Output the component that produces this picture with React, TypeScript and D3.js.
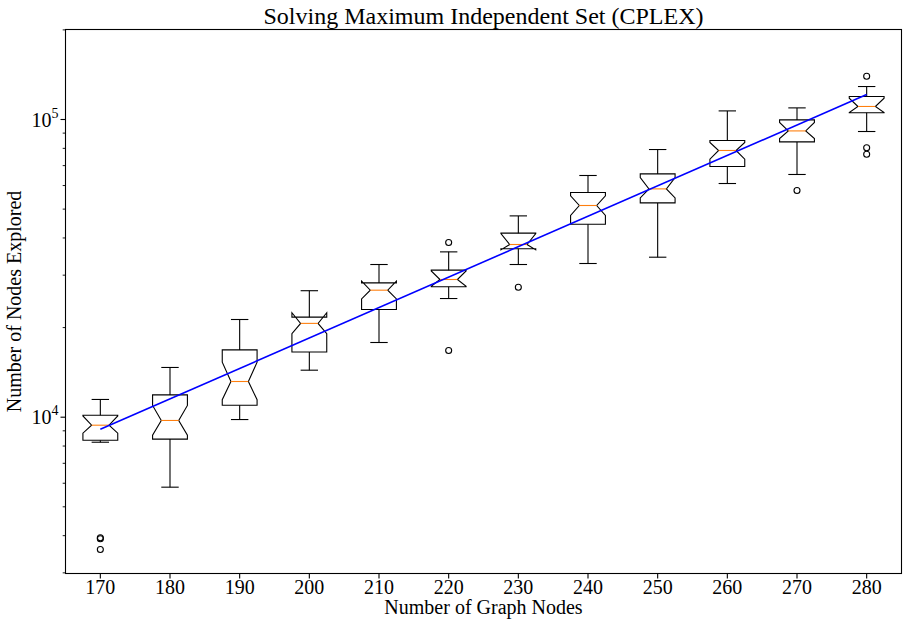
import React from "react";
import * as d3 from "d3";

// ---- data ----
const categories = [170, 180, 190, 200, 210, 220, 230, 240, 250, 260, 270, 280];
const whiskerHigh = [11470, 14690, 21290, 26600, 32575, 35920, 47450, 64850, 79280, 106880, 109400, 129060];
const q3Values = [10155, 11880, 16830, 21680, 28260, 31180, 41510, 56850, 65660, 85000, 99700, 119500];
const notchHigh = [10100, 10950, 15300, 22440, 28630, 31000, 41410, 55380, 63860, 83700, 97700, 117900];
const medians = [9400, 9750, 13180, 20660, 26710, 29010, 38030, 51420, 58470, 78690, 91550, 110600];
const notchLow = [8840, 8700, 11450, 19080, 24970, 27540, 36480, 47600, 54530, 73570, 86330, 105560];
const q1Values = [8370, 8440, 10970, 16560, 23000, 27440, 36810, 44490, 52470, 69500, 84100, 105400];
const whiskerLow = [8240, 5820, 9820, 14385, 17820, 25040, 32575, 32830, 34470, 60950, 65360, 91130];
const outliers: number[][] = [
  [3938, 3907, 3594],
  [],
  [],
  [],
  [],
  [38620, 16750],
  [27330],
  [],
  [],
  [],
  [57750],
  [139800, 80410, 76450],
];
const fitNodes = [170, 280];
const fitValues = [9110, 121300];

const yMajorTicks = [1e4, 1e5];
const yMajorExponents = ["4", "5"];

const title = "Solving Maximum Independent Set (CPLEX)";
const xLabel = "Number of Graph Nodes";
const yLabel = "Number of Nodes Explored";

// ---- layout ----
const W = 908;
const H = 626;
const left = 65.5;
const right = 901.5;
const top = 29.5;
const bottom = 573.5;
const FONT = "'Liberation Serif', 'DejaVu Serif', serif";

export default function App() {
  const x = d3.scaleLinear().domain([0.5, categories.length + 0.5]).range([left, right]);
  const y = d3.scaleLog().domain([2985, 200600]).range([bottom, top]);

  const boxW = 0.5;
  const minorTicks: number[] = [];
  for (let e = 3; e <= 5; e++) {
    for (let m = 2; m <= 9; m++) {
      const v = m * Math.pow(10, e);
      if (v >= y.domain()[0] && v <= y.domain()[1]) minorTicks.push(v);
    }
  }

  const pos = (i: number) => i + 1;
  const fitLine = d3
    .line<number>()
    .x((_, k) => x(pos(categories.indexOf(fitNodes[k]))))
    .y((v) => y(v));

  return (
    <svg width={W} height={H} style={{ position: "absolute", left: 0, top: 0, background: "#fff" }}>
      <rect x={0} y={0} width={W} height={H} fill="#fff" />
      {/* boxes */}
      {categories.map((c, i) => {
        const p = pos(i);
        const bl = x(p - boxW / 2);
        const br = x(p + boxW / 2);
        const cl = x(p - boxW / 4);
        const cr = x(p + boxW / 4);
        const capL = x(p - boxW / 4);
        const capR = x(p + boxW / 4);
        const cx = x(p);
        const pts: [number, number][] = [
          [bl, y(q1Values[i])],
          [bl, y(notchLow[i])],
          [cl, y(medians[i])],
          [bl, y(notchHigh[i])],
          [bl, y(q3Values[i])],
          [br, y(q3Values[i])],
          [br, y(notchHigh[i])],
          [cr, y(medians[i])],
          [br, y(notchLow[i])],
          [br, y(q1Values[i])],
        ];
        return (
          <g key={c}>
            <line x1={cx} x2={cx} y1={y(q1Values[i])} y2={y(whiskerLow[i])} stroke="#000" strokeWidth={1.1} />
            <line x1={cx} x2={cx} y1={y(q3Values[i])} y2={y(whiskerHigh[i])} stroke="#000" strokeWidth={1.1} />
            <line x1={capL} x2={capR} y1={y(whiskerLow[i])} y2={y(whiskerLow[i])} stroke="#000" strokeWidth={1.1} />
            <line x1={capL} x2={capR} y1={y(whiskerHigh[i])} y2={y(whiskerHigh[i])} stroke="#000" strokeWidth={1.1} />
            <polygon points={pts.map((d) => d.join(",")).join(" ")} fill="none" stroke="#000" strokeWidth={1.1} strokeLinejoin="miter" />
            <line x1={cl} x2={cr} y1={y(medians[i])} y2={y(medians[i])} stroke="#ff7f0e" strokeWidth={1.1} />
            {outliers[i].map((v, k) => (
              <circle key={k} cx={cx} cy={y(v)} r={3} fill="none" stroke="#000" strokeWidth={1.1} />
            ))}
          </g>
        );
      })}
      {/* fit line */}
      <path d={fitLine(fitValues) || ""} fill="none" stroke="#0000ff" strokeWidth={1.6} />
      {/* frame */}
      <rect x={left} y={top} width={right - left} height={bottom - top} fill="none" stroke="#000" strokeWidth={1.1} />
      {/* x ticks */}
      {categories.map((c, i) => (
        <g key={"xt" + c}>
          <line x1={x(pos(i))} x2={x(pos(i))} y1={bottom} y2={bottom + 5} stroke="#000" strokeWidth={1.1} />
          <text x={x(pos(i))} y={bottom + 20} textAnchor="middle" fontFamily={FONT} fontSize={20} fill="#000">
            {c}
          </text>
        </g>
      ))}
      {/* y ticks */}
      {minorTicks.map((v) => (
        <line key={"ym" + v} x1={left - 2.8} x2={left} y1={y(v)} y2={y(v)} stroke="#000" strokeWidth={0.9} />
      ))}
      {yMajorTicks.map((v, k) => (
        <g key={"yM" + v}>
          <line x1={left - 5} x2={left} y1={y(v)} y2={y(v)} stroke="#000" strokeWidth={1.1} />
          <text x={left - 7} y={y(v) + 7} textAnchor="end" fontFamily={FONT} fontSize={20} fill="#000">
            10
            <tspan dy={-9} fontSize={14}>
              {yMajorExponents[k]}
            </tspan>
          </text>
        </g>
      ))}
      {/* labels */}
      <text x={(left + right) / 2} y={24} textAnchor="middle" fontFamily={FONT} fontSize={24} fill="#000">
        {title}
      </text>
      <text x={(left + right) / 2} y={614} textAnchor="middle" fontFamily={FONT} fontSize={20} fill="#000">
        {xLabel}
      </text>
      <text
        transform={`translate(21, ${(top + bottom) / 2}) rotate(-90)`}
        textAnchor="middle"
        fontFamily={FONT}
        fontSize={20}
        fill="#000"
      >
        {yLabel}
      </text>
    </svg>
  );
}
